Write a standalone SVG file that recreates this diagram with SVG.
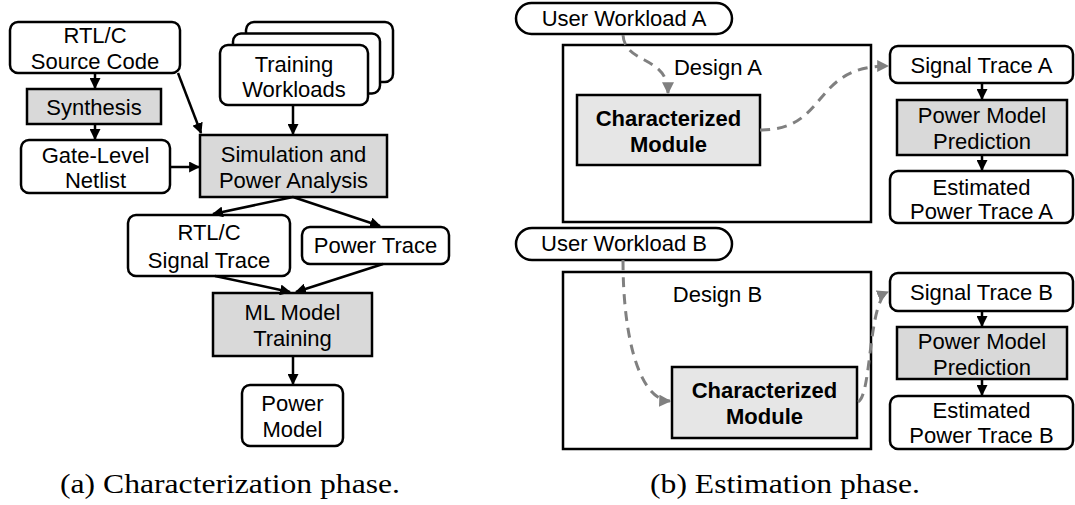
<svg xmlns="http://www.w3.org/2000/svg" width="1075" height="505" viewBox="0 0 1075 505">
  <style>
    .box { fill: #ffffff; stroke: #000000; stroke-width: 2.5; }
    .proc { fill: #d9d9d9; stroke: #000000; stroke-width: 2.5; }
    .mod { fill: #e6e6e6; stroke: #000000; stroke-width: 2.5; }
    .frame { fill: #ffffff; stroke: #000000; stroke-width: 2.5; }
    .t { font-family: "Liberation Sans", Arial, sans-serif; font-size: 22px; fill: #000000; text-anchor: middle; }
    .tb { font-family: "Liberation Sans", Arial, sans-serif; font-size: 22px; font-weight: bold; fill: #000000; text-anchor: middle; }
    .cap { font-family: "Liberation Serif", "Times New Roman", serif; font-size: 28px; fill: #000000; }
    .edge { fill: none; stroke: #000000; stroke-width: 2.5; marker-end: url(#ah); }
    .flow { fill: none; stroke: #808080; stroke-width: 3; stroke-dasharray: 10 7; marker-end: url(#ahg); }
  </style>
  <defs>
    <marker id="ah" viewBox="0 0 10 10" refX="9" refY="5" markerWidth="11" markerHeight="11" markerUnits="userSpaceOnUse" orient="auto">
      <path d="M0,0 L10,5 L0,10 z" fill="#000000"/>
    </marker>
    <marker id="ahg" viewBox="0 0 10 10" refX="9" refY="5" markerWidth="12" markerHeight="12" markerUnits="userSpaceOnUse" orient="auto">
      <path d="M0,0 L10,5 L0,10 z" fill="#808080"/>
    </marker>
  </defs>

  <!-- (a) characterization flow -->
  <g id="source-code">
    <rect class="box" x="10" y="22" width="170" height="51" rx="8"/>
    <text class="t" x="95" y="43">RTL/C</text>
    <text class="t" x="95" y="69">Source Code</text>
  </g>
  <g id="synthesis">
    <rect class="proc" x="27" y="89" width="134" height="35"/>
    <text class="t" x="94" y="115">Synthesis</text>
  </g>
  <g id="netlist">
    <rect class="box" x="21" y="140" width="149" height="53" rx="8"/>
    <text class="t" x="95.5" y="163">Gate-Level</text>
    <text class="t" x="95.5" y="188">Netlist</text>
  </g>
  <g id="training-workloads">
    <rect class="box" x="246" y="22" width="147" height="60" rx="8"/>
    <rect class="box" x="233" y="33.5" width="147" height="60" rx="8"/>
    <rect class="box" x="220" y="45" width="148" height="60" rx="8"/>
    <text class="t" x="294" y="72">Training</text>
    <text class="t" x="294" y="97">Workloads</text>
  </g>
  <g id="simulation">
    <rect class="proc" x="200" y="135" width="187" height="62"/>
    <text class="t" x="293.5" y="162">Simulation and</text>
    <text class="t" x="293.5" y="188">Power Analysis</text>
  </g>
  <g id="signal-trace">
    <rect class="box" x="128" y="215" width="162" height="61" rx="8"/>
    <text class="t" x="209" y="240">RTL/C</text>
    <text class="t" x="209" y="268">Signal Trace</text>
  </g>
  <g id="power-trace">
    <rect class="box" x="302" y="227" width="147" height="37" rx="8"/>
    <text class="t" x="375.5" y="253">Power Trace</text>
  </g>
  <g id="ml-training">
    <rect class="proc" x="213" y="293" width="159" height="63"/>
    <text class="t" x="292.5" y="320">ML Model</text>
    <text class="t" x="292.5" y="346">Training</text>
  </g>
  <g id="power-model">
    <rect class="box" x="242" y="385" width="101" height="61" rx="8"/>
    <text class="t" x="292.5" y="411">Power</text>
    <text class="t" x="292.5" y="437">Model</text>
  </g>

  <!-- (b) estimation flow -->
  <g id="design-a">
    <rect class="frame" x="563" y="45" width="308" height="177"/>
    <text class="t" x="718" y="75">Design A</text>
  </g>
  <g id="module-a">
    <rect class="mod" x="577" y="95" width="183" height="70"/>
    <text class="tb" x="668.5" y="126">Characterized</text>
    <text class="tb" x="668.5" y="152">Module</text>
  </g>
  <g id="workload-a">
    <rect class="box" x="516" y="3" width="216" height="31" rx="15.5"/>
    <text class="t" x="624" y="26">User Workload A</text>
  </g>
  <g id="signal-trace-a">
    <rect class="box" x="890" y="46" width="183" height="37" rx="8"/>
    <text class="t" x="981.5" y="73">Signal Trace A</text>
  </g>
  <g id="prediction-a">
    <rect class="proc" x="897" y="100" width="170" height="55"/>
    <text class="t" x="982" y="123">Power Model</text>
    <text class="t" x="982" y="149">Prediction</text>
  </g>
  <g id="estimate-a">
    <rect class="box" x="890" y="171" width="183" height="52" rx="8"/>
    <text class="t" x="981.5" y="195">Estimated</text>
    <text class="t" x="981.5" y="219">Power Trace A</text>
  </g>

  <g id="design-b">
    <rect class="frame" x="563" y="272" width="308" height="177"/>
    <text class="t" x="717.5" y="302">Design B</text>
  </g>
  <g id="module-b">
    <rect class="mod" x="672" y="367" width="185" height="71"/>
    <text class="tb" x="764.5" y="398">Characterized</text>
    <text class="tb" x="764.5" y="424">Module</text>
  </g>
  <g id="workload-b">
    <rect class="box" x="516" y="228" width="216" height="32" rx="16"/>
    <text class="t" x="624" y="251">User Workload B</text>
  </g>
  <g id="signal-trace-b">
    <rect class="box" x="890" y="273" width="183" height="38" rx="8"/>
    <text class="t" x="981.5" y="300">Signal Trace B</text>
  </g>
  <g id="prediction-b">
    <rect class="proc" x="897" y="327" width="170" height="52"/>
    <text class="t" x="982" y="349">Power Model</text>
    <text class="t" x="982" y="375">Prediction</text>
  </g>
  <g id="estimate-b">
    <rect class="box" x="890" y="396" width="183" height="53" rx="8"/>
    <text class="t" x="981.5" y="418">Estimated</text>
    <text class="t" x="981.5" y="443">Power Trace B</text>
  </g>

  <!-- connectors -->
  <g id="connectors">
    <path class="edge" d="M95,73 L95,88"/>
    <path class="edge" d="M95,124 L95,139"/>
    <path class="edge" d="M178,73 L201,133"/>
    <path class="edge" d="M293,105 L293,134"/>
    <path class="edge" d="M170,167 L199,167"/>
    <path class="edge" d="M293,197 L213,214"/>
    <path class="edge" d="M293,197 L380,226"/>
    <path class="edge" d="M215,276 L290,292"/>
    <path class="edge" d="M383,264 L296,292"/>
    <path class="edge" d="M293,356 L293,384"/>
    <path class="edge" d="M982,83 L982,99"/>
    <path class="edge" d="M982,155 L982,170"/>
    <path class="edge" d="M982,311 L982,326"/>
    <path class="edge" d="M982,379 L982,395"/>
    <path class="flow" d="M623,35 C625,65 668,55 668,93"/>
    <path class="flow" d="M760,130 C830,130 810,66 888,66"/>
    <path class="flow" d="M623,260 C623,340 640,400 670,401"/>
    <path class="flow" d="M858,402 C872,395 868,300 888,292"/>
  </g>

  <!-- captions -->
  <text class="cap" x="60" y="493" textLength="340" lengthAdjust="spacingAndGlyphs">(a) Characterization phase.</text>
  <text class="cap" x="650" y="493" textLength="270" lengthAdjust="spacingAndGlyphs">(b) Estimation phase.</text>
</svg>
